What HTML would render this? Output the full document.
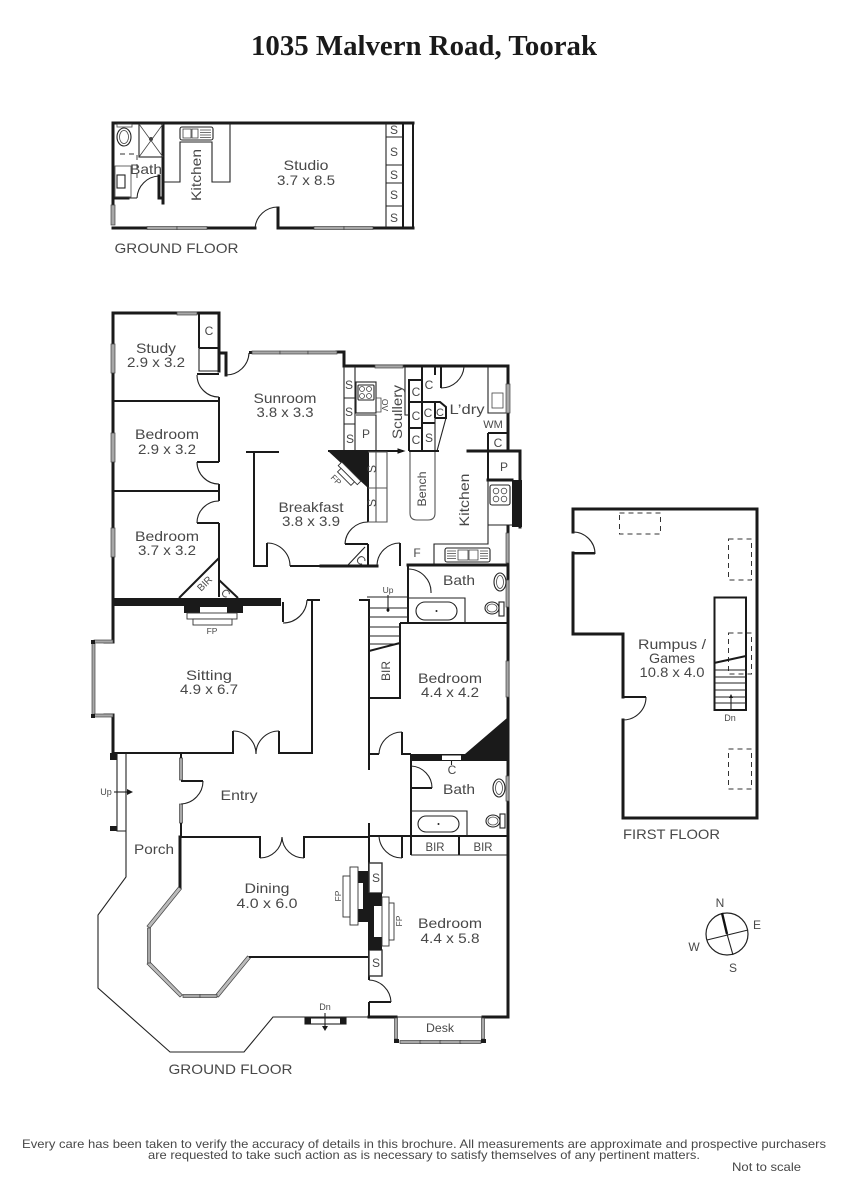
<!DOCTYPE html>
<html><head><meta charset="utf-8"><title>1035 Malvern Road, Toorak</title>
<style>
html,body{margin:0;padding:0;background:#fff}
svg{display:block}
.w{fill:none;stroke:#1a1a1a;stroke-width:3;stroke-linecap:square}
.i{fill:none;stroke:#1a1a1a;stroke-width:2}
.t{fill:none;stroke:#222;stroke-width:1.1}
.h{fill:none;stroke:#444;stroke-width:.8}
.g{fill:#a8a8a8;stroke:#444;stroke-width:.7}
.b{fill:#1a1a1a;stroke:none}
.d{fill:none;stroke:#333;stroke-width:1;stroke-dasharray:5 4}
.wf{fill:#fff;stroke:#333;stroke-width:.9}
text{font-family:"Liberation Sans",sans-serif;fill:#484848;font-size:14px;text-anchor:middle}
.s{font-size:12px}
.xs{font-size:8.5px}
</style></head><body>
<svg xmlns="http://www.w3.org/2000/svg" width="848" height="1200" viewBox="0 0 848 1200">
<rect width="848" height="1200" fill="#fff"/>
<text x="424" y="55" textLength="346" lengthAdjust="spacingAndGlyphs" style="font-family:'Liberation Serif',serif;font-weight:bold;font-size:29px;fill:#1a1a1a">1035 Malvern Road, Toorak</text>

<!-- STUDIO -->
<path class="w" d="M113 206V123H413"/>
<path class="i" d="M413 123V228M403 123V228"/>
<path class="w" d="M113 228H255M278 228H413M278 228V208M163 123V203M113 198H128M159 198H163M159 176V198"/>
<path class="t" d="M255 228A23 23 0 0 1 278 207M137 198A23 23 0 0 1 159 176M128 198H137"/>
<path class="t" d="M163 182H180V142H212V182H230V123"/>
<path class="t" d="M386 123V228M386 137H403M386 165H403M386 183H403M386 206H403"/>
<rect class="g" x="111" y="205" width="4" height="20"/>
<rect class="g" x="147" y="226.500" width="30" height="3"/><rect class="g" x="177" y="226.500" width="30" height="3"/>
<rect class="g" x="314" y="226.500" width="30" height="3"/><rect class="g" x="344" y="226.500" width="29" height="3"/>
<rect class="t" x="139" y="124" width="24" height="33"/><path class="h" d="M139 124L163 157M163 124L139 157"/><circle cx="151" cy="139" r="2" fill="#444"/>
<rect class="h" x="117" y="124" width="15" height="3"/><ellipse class="t" cx="124" cy="137" rx="7" ry="9"/><ellipse class="h" cx="124" cy="137" rx="4.500" ry="6.500"/>
<rect class="h" x="115" y="166" width="16" height="31"/><rect class="t" x="117" y="175" width="8" height="13"/>
<path class="d" d="M120 154H137V180" style="stroke-width:.9"/>
<rect class="t" x="180" y="127" width="33" height="13" rx="2"/><rect class="h" x="183" y="129" width="8" height="9"/><rect class="h" x="192" y="129" width="6" height="9"/><path class="h" d="M200 130H211M200 132.500H211M200 135H211M200 137.500H211"/>
<text x="146" y="174" textLength="32" lengthAdjust="spacingAndGlyphs">Bath</text>
<text transform="translate(201,175) rotate(-90)" textLength="52" lengthAdjust="spacingAndGlyphs">Kitchen</text>
<text x="306" y="170" textLength="45" lengthAdjust="spacingAndGlyphs">Studio</text>
<text x="306" y="185" textLength="58" lengthAdjust="spacingAndGlyphs">3.7 x 8.5</text>
<text class="s" x="394" y="134">S</text><text class="s" x="394" y="156">S</text><text class="s" x="394" y="179">S</text><text class="s" x="394" y="199">S</text><text class="s" x="394" y="222">S</text>
<text x="176.500" y="253" textLength="124" lengthAdjust="spacingAndGlyphs">GROUND FLOOR</text>

<!-- WEST ROOMS -->
<path class="w" d="M113 313V642M113 313H219V371M113 715V753"/>
<path class="i" d="M199 313V348M199 348H219M197 374H219M113 401H219M219 397V462M197 462H219M113 491H219M219 484V501M197 523H219M219 523V597"/>
<path class="t" d="M199 348V371H219"/>
<path class="t" d="M197 375A22 22 0 0 0 219 397M197 462A22 22 0 0 0 219 484M219 501A22 22 0 0 0 197 523"/>
<path class="i" d="M219 558L179 598M219 580L238 598"/>
<rect class="g" x="111" y="344" width="4" height="29"/><rect class="g" x="111" y="433" width="4" height="29"/><rect class="g" x="111" y="528" width="4" height="29"/>
<rect class="g" x="177" y="312" width="20" height="3"/>
<rect class="b" x="113" y="598" width="168" height="8"/>
<rect class="b" x="184" y="606" width="59" height="7"/><rect x="200" y="607" width="27" height="6" fill="#fff"/>
<rect class="wf" x="187" y="613" width="50" height="6"/><rect class="wf" x="193" y="619" width="39" height="6"/>
<text class="xs" x="212" y="634">FP</text>
<text transform="translate(207,586) rotate(-45)" style="font-size:10px">BIR</text>
<text transform="translate(223,596) rotate(45)" style="font-size:11px">C</text>
<text class="s" x="209" y="335">C</text>
<text x="156" y="353" textLength="40" lengthAdjust="spacingAndGlyphs">Study</text><text x="156" y="367" textLength="58" lengthAdjust="spacingAndGlyphs">2.9 x 3.2</text>
<text x="167" y="439" textLength="64" lengthAdjust="spacingAndGlyphs">Bedroom</text><text x="167" y="454" textLength="58" lengthAdjust="spacingAndGlyphs">2.9 x 3.2</text>
<text x="167" y="541" textLength="64" lengthAdjust="spacingAndGlyphs">Bedroom</text><text x="167" y="555" textLength="58" lengthAdjust="spacingAndGlyphs">3.7 x 3.2</text>

<!-- SUNROOM / BREAKFAST -->
<path class="w" d="M219 353H226V375M344 352H337M344 352V366H508V451"/>
<path class="t" d="M226 375A23 23 0 0 0 249 353"/>
<rect class="b" x="249" y="351" width="3" height="3"/>
<rect class="g" x="252" y="351" width="28" height="3"/><rect class="g" x="280" y="351" width="28" height="3"/><rect class="g" x="308" y="351" width="29" height="3"/>
<path class="i" d="M246 452H279M254 452V566H267V543M290 566H377"/>
<path class="t" d="M267 543A23 23 0 0 1 290 566"/>
<text x="285" y="403" textLength="63" lengthAdjust="spacingAndGlyphs">Sunroom</text><text x="285" y="417" textLength="57" lengthAdjust="spacingAndGlyphs">3.8 x 3.3</text>
<text x="311" y="512" textLength="65" lengthAdjust="spacingAndGlyphs">Breakfast</text><text x="311" y="526" textLength="58" lengthAdjust="spacingAndGlyphs">3.8 x 3.9</text>

<!-- Corner FP -->
<path class="b" d="M328 451H368V488Z"/>
<g transform="translate(346,479) rotate(45)"><rect class="wf" x="-15" y="-9" width="27" height="5"/><rect class="wf" x="-11" y="-4" width="19" height="5"/></g>
<text class="xs" transform="translate(334,482) rotate(45)">FP</text>

<!-- SCULLERY / KITCHEN -->
<path class="t" d="M344 367H355V451M344 398H355M344 424H355M344 367V451"/>
<rect class="t" x="356" y="382" width="20" height="31"/><rect class="t" x="358" y="385" width="16" height="15" rx="1"/>
<circle class="h" cx="362" cy="389" r="2.500"/><circle class="h" cx="369" cy="389" r="2.500"/><circle class="h" cx="362" cy="396" r="2.500"/><circle class="h" cx="369" cy="396" r="2.500"/>
<path class="t" d="M356 415H376V451"/>
<path class="h" d="M376 398H381V412H376"/>
<text class="xs" transform="translate(382,405) rotate(90)">OV</text>
<path class="t" d="M405 367V415H410"/>
<rect class="g" x="375" y="365" width="28" height="3"/>
<path class="i" d="M422 367V451M435 367V375M409 380H422V402H409ZM409 402H435M409 428H422M409 402V451M422 423H435M422 451M435 402V418M435 418H446V407L440 402H435"/>
<path class="t" d="M435 418V451M446 418L437 451"/>
<path class="i" d="M328 451H403M409 451H439M441 367V388"/>
<path class="t" d="M441 388A23 23 0 0 0 464 367"/>
<path class="b" d="M398 449L404 451L398 453Z" style="stroke:#111"/>
<text class="s" x="416" y="396">C</text><text class="s" x="429" y="389">C</text><text class="s" x="416" y="420">C</text><text class="s" x="428" y="417">C</text><text class="s" x="440" y="416" style="font-size:11px">C</text><text class="s" x="416" y="444">C</text><text class="s" x="429" y="442">S</text>
<text class="s" x="349" y="389">S</text><text class="s" x="349" y="416">S</text><text class="s" x="350" y="443">S</text>
<text class="s" x="366" y="438">P</text>
<text transform="translate(402,412) rotate(-90)" textLength="54" lengthAdjust="spacingAndGlyphs">Scullery</text>
<text x="467" y="414" textLength="35" lengthAdjust="spacingAndGlyphs">L’dry</text>
<path class="t" d="M488 367V413H508"/>
<rect class="g" x="506" y="384" width="4" height="29"/>
<rect class="h" x="492" y="393" width="11" height="15"/>
<text x="493" y="428" style="font-size:11px">WM</text>
<path class="i" d="M488 433H508M488 433V480"/>
<text class="s" x="498" y="447">C</text>
<path class="w" d="M468 451H520V527M488 480H512"/>
<path class="t" d="M488 480V544H434V565M488 525H512"/>
<text class="s" x="504" y="471">P</text>
<rect class="b" x="512" y="480" width="10" height="47"/>
<rect class="t" x="490" y="485" width="20" height="20" rx="2"/>
<circle class="h" cx="496" cy="491" r="2.800"/><circle class="h" cx="504" cy="491" r="2.800"/><circle class="h" cx="496" cy="499" r="2.800"/><circle class="h" cx="504" cy="499" r="2.800"/>
<path class="i" d="M368 452V522M368 544V565"/>
<path class="t" d="M368 452H387V522H368M376 452V522M368 488H387" style="stroke:#555"/>
<text class="s" transform="translate(376,469) rotate(-90)">S</text><text class="s" transform="translate(376,503) rotate(-90)">S</text>
<path class="t" d="M368 522A23 23 0 0 0 345 544"/>
<path class="i" d="M345 544H368"/>
<path class="t" d="M348 565L365 547"/>
<text class="s" transform="translate(358,563) rotate(45)">C</text>
<path class="t" d="M410 452V513Q410 520 417 520H428Q435 520 435 513V452" style="stroke:#555"/>
<text class="s" transform="translate(426,489) rotate(-90)" textLength="35" lengthAdjust="spacingAndGlyphs">Bench</text>
<text transform="translate(469,500) rotate(-90)" textLength="53" lengthAdjust="spacingAndGlyphs">Kitchen</text>
<rect class="t" x="445" y="548" width="45" height="14" rx="2"/><rect class="h" x="458" y="550" width="10" height="10"/><rect class="h" x="469" y="550" width="9" height="10"/><path class="h" d="M447 551H456M447 553.500H456M447 556H456M447 558.500H456M480 551H488M480 553.500H488M480 556H488M480 558.500H488"/>
<text class="s" x="417" y="557">F</text>

<!-- BATH 1 / STAIRS -->
<path class="w" d="M508 527V1017M377 566H321M408 565H507"/>
<path class="i" d="M400 543V566M408 565V593M408 593V623M400 623H507M400 623V698H369"/>
<path class="t" d="M377 565A23 23 0 0 1 400 543M408 569A23 23 0 0 1 431 593M408 598H465V623"/>
<rect class="t" x="416" y="602" width="41" height="18" rx="9"/><circle cx="436.500" cy="611" r="1" fill="#222"/>
<rect class="g" x="506" y="533" width="3" height="30"/><rect class="g" x="506" y="580" width="3" height="27"/>
<ellipse class="t" cx="500" cy="582" rx="6" ry="9"/><ellipse class="h" cx="500" cy="582" rx="3.500" ry="6.500"/>
<ellipse class="t" cx="492" cy="608" rx="7" ry="6"/><ellipse class="h" cx="492" cy="608" rx="5" ry="4"/><rect class="t" x="499" y="602" width="5" height="14"/>
<text x="459" y="585" textLength="32" lengthAdjust="spacingAndGlyphs">Bath</text>
<path class="i" d="M359 600H369V770"/>
<path class="t" d="M367 597H408M369 608H408M369 617H408M369 627H400M369 636H400M369 644H400"/>
<path class="i" d="M369 651L400 643"/>
<path class="t" d="M388 595V612"/><circle cx="388" cy="610" r="1.500" fill="#111"/>
<text class="xs" x="388" y="593">Up</text>
<text class="s" transform="translate(390,671) rotate(-90)" textLength="20" lengthAdjust="spacingAndGlyphs">BIR</text>
<rect class="g" x="506" y="661" width="3" height="36"/>
<text x="450" y="683" textLength="64" lengthAdjust="spacingAndGlyphs">Bedroom</text><text x="450" y="697" textLength="58" lengthAdjust="spacingAndGlyphs">4.4 x 4.2</text>
<path class="b" d="M507 718L465 754H411V761H507Z"/>
<rect x="442" y="755.500" width="19" height="4.500" fill="#fff"/>
<path class="i" d="M369 754H379M402 732V754H411"/>
<path class="t" d="M379 754A23 23 0 0 1 402 732M451.500 760V765"/>
<text class="s" x="452" y="774">C</text>

<!-- BATH 2 -->
<path class="i" d="M411 754V788H432M411 788V855M369 836H507M459 836V855M369 823V873M402 836V858"/>
<path class="t" d="M411 766A22 22 0 0 1 432 788M411 811H467V836M379 836A23 23 0 0 0 402 858M411 855H507"/>
<rect class="t" x="418" y="816" width="41" height="16" rx="8"/><circle cx="438.500" cy="824" r="1" fill="#222"/>
<rect class="g" x="506" y="776" width="3" height="25"/>
<ellipse class="t" cx="499" cy="788" rx="6" ry="9"/><ellipse class="h" cx="499" cy="788" rx="3.500" ry="6.500"/>
<ellipse class="t" cx="493" cy="821" rx="7" ry="6"/><ellipse class="h" cx="493" cy="821" rx="5" ry="4"/><rect class="t" x="500" y="814" width="5" height="14"/>
<text x="459" y="794" textLength="32" lengthAdjust="spacingAndGlyphs">Bath</text>
<text class="s" x="435" y="851" textLength="19" lengthAdjust="spacingAndGlyphs">BIR</text><text class="s" x="483" y="851" textLength="19" lengthAdjust="spacingAndGlyphs">BIR</text>

<!-- SITTING -->
<path class="w" d="M113 606V642M113 642H105M113 715H105"/>
<rect class="g" x="92" y="643" width="3" height="72"/>
<rect class="g" x="94" y="640" width="19" height="3"/><rect class="g" x="94" y="714" width="19" height="3"/>
<rect class="b" x="91" y="640" width="4" height="4"/><rect class="b" x="91" y="714" width="4" height="4"/>
<path class="i" d="M113 753H233V731M279 731V753H312V600H307M307 600H320M283 602V622"/>
<path class="t" d="M233 731A23 23 0 0 1 256 754M279 731A23 23 0 0 0 256 754M307 600A24 24 0 0 1 283 623"/>
<text x="209" y="680" textLength="46" lengthAdjust="spacingAndGlyphs">Sitting</text><text x="209" y="694" textLength="58" lengthAdjust="spacingAndGlyphs">4.9 x 6.7</text>

<!-- ENTRY / PORCH -->
<rect class="b" x="110" y="753" width="7" height="7"/><rect class="b" x="110" y="826" width="7" height="5"/>
<path class="t" d="M117 753V831H126M126 753V877L98 915V988L170 1052H244L273 1017H368"/>
<rect class="g" x="179.500" y="758" width="3" height="22"/><rect class="g" x="179.500" y="804" width="3" height="19"/>
<path class="i" d="M181 753V758M181 823V837M181 781H203M181 837H260V858M304 858V837H369"/>
<path class="t" d="M203 781A23 23 0 0 1 181 804M260 858A22 22 0 0 0 282 837M304 858A22 22 0 0 1 282 837"/>
<path class="t" d="M114 792H130"/><path class="b" d="M127 789L133 792L127 795Z"/>
<text class="xs" x="106" y="795" style="font-size:9px">Up</text>
<text x="239" y="800" textLength="37" lengthAdjust="spacingAndGlyphs">Entry</text>
<text x="154" y="854" textLength="40" lengthAdjust="spacingAndGlyphs">Porch</text>

<!-- DINING -->
<path class="w" d="M180 837V888"/>
<path class="g" d="M178.500 887L147 926L150 928L181.500 889Z" style="fill:#bbb"/>
<path class="g" d="M147 964L180 997L182.500 995L150 962Z" style="fill:#bbb"/>
<path class="g" d="M215.500 995L247.500 956L250.500 958L218.500 997Z" style="fill:#bbb"/>
<rect class="g" x="147.500" y="928" width="3" height="35"/>
<rect class="g" x="183" y="994.500" width="17" height="3"/><rect class="g" x="200" y="994.500" width="17" height="3"/>
<path class="i" d="M249 957H369M369 830V980"/>
<text x="267" y="893" textLength="45" lengthAdjust="spacingAndGlyphs">Dining</text><text x="267" y="908" textLength="61" lengthAdjust="spacingAndGlyphs">4.0 x 6.0</text>
<!-- Central chimney -->
<rect class="wf" x="369" y="863" width="13" height="30" style="stroke-width:1.400"/>
<rect class="wf" x="369" y="950" width="13" height="26" style="stroke-width:1.400"/>
<path class="b" d="M368 893H382V906H374V937H382V950H368V922H358V909H363V883H358V871H368Z"/>
<rect class="wf" x="350" y="867" width="8" height="58"/><rect class="wf" x="343" y="876" width="7" height="41"/>
<rect class="wf" x="382" y="897" width="7" height="49"/><rect class="wf" x="389" y="903" width="5" height="37"/>
<text class="s" x="376" y="882">S</text><text class="s" x="376" y="967">S</text>
<text class="xs" transform="translate(341,896) rotate(-90)">FP</text>
<text class="xs" transform="translate(402,921) rotate(-90)">FP</text>

<!-- BEDROOM SOUTH -->
<path class="i" d="M369 1002H391M369 1002V1018"/>
<path class="t" d="M369 980A23 23 0 0 1 391 1002"/>
<path class="w" d="M369 1017H396M483 1017H508"/>
<path class="t" d="M396 1017H483"/>
<rect class="g" x="394.500" y="1018" width="3" height="21"/><rect class="g" x="481.500" y="1018" width="3" height="21"/>
<rect class="g" x="400" y="1040.500" width="21" height="3"/><rect class="g" x="420" y="1040.500" width="21" height="3"/><rect class="g" x="440" y="1040.500" width="21" height="3"/><rect class="g" x="460" y="1040.500" width="21" height="3"/>
<rect class="b" x="394" y="1039" width="5" height="4"/><rect class="b" x="481" y="1039" width="5" height="4"/>
<text x="450" y="928" textLength="64" lengthAdjust="spacingAndGlyphs">Bedroom</text><text x="450" y="943" textLength="59" lengthAdjust="spacingAndGlyphs">4.4 x 5.8</text>
<text x="440" y="1032" class="s" textLength="28" lengthAdjust="spacingAndGlyphs">Desk</text>
<rect class="t" x="305" y="1018" width="41" height="6"/><rect class="b" x="305" y="1018" width="6" height="6"/><rect class="b" x="340" y="1018" width="6" height="6"/>
<path class="t" d="M325 1013V1027"/><path class="b" d="M322 1026H328L325 1031Z"/>
<text class="xs" x="325" y="1010" style="font-size:9px">Dn</text>
<text x="230.500" y="1074" textLength="124" lengthAdjust="spacingAndGlyphs">GROUND FLOOR</text>

<!-- FIRST FLOOR -->
<path class="w" d="M573 532V509H757V818H623V720M623 697V634H573V553"/>
<path class="t" d="M573 532A22 22 0 0 1 595 554M573 554H595M646 697A23 23 0 0 1 623 720"/>
<path class="i" d="M573 553H595M623 697H646"/>
<rect class="d" x="619.500" y="513" width="41" height="21"/><rect class="d" x="728.500" y="539" width="23" height="41"/><rect class="d" x="728.500" y="633" width="23" height="41"/><rect class="d" x="728.500" y="749" width="23" height="40"/>
<rect class="i" x="714.500" y="597.500" width="31.500" height="112.500"/>
<path class="i" d="M714 663L746 656"/>
<path class="t" d="M714 670H746M714 677H746M714 683H746M714 690H746M714 697H746M714 703H746M731 710V697"/><path class="b" d="M729 698H733L731 694Z"/>
<text class="xs" x="730" y="721" style="font-size:9px">Dn</text>
<text x="672" y="649" textLength="68" lengthAdjust="spacingAndGlyphs">Rumpus /</text><text x="672" y="663" textLength="46" lengthAdjust="spacingAndGlyphs" style="font-size:14px">Games</text><text x="672" y="677" textLength="65" lengthAdjust="spacingAndGlyphs">10.8 x 4.0</text>
<text x="671.500" y="839" textLength="97" lengthAdjust="spacingAndGlyphs">FIRST FLOOR</text>

<!-- COMPASS -->
<circle cx="727" cy="934" r="21" fill="none" stroke="#222" stroke-width="1.200"/>
<path d="M722 913L727 934" stroke="#111" stroke-width="2.400" fill="none"/>
<path class="t" d="M727 934L733 955M707 940L748 930"/>
<text x="720" y="907" class="s">N</text><text x="757" y="929" class="s">E</text><text x="694" y="951" class="s">W</text><text x="733" y="972" class="s">S</text>

<!-- FOOTER -->
<text x="424" y="1148" class="s" textLength="804" lengthAdjust="spacingAndGlyphs">Every care has been taken to verify the accuracy of details in this brochure.  All measurements are approximate and prospective purchasers</text>
<text x="424" y="1159" class="s" textLength="552" lengthAdjust="spacingAndGlyphs">are requested to take such action as is necessary to satisfy themselves of any pertinent matters.</text>
<text x="766.500" y="1171" class="s" textLength="69" lengthAdjust="spacingAndGlyphs">Not to scale</text>
</svg>
</body></html>
